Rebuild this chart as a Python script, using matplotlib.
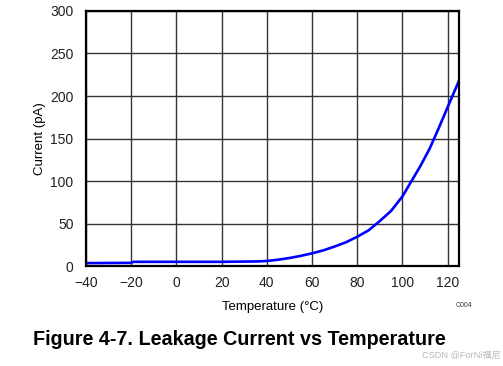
import matplotlib
matplotlib.use('Agg')
import matplotlib.pyplot as plt

# leakage current
temp_c = [-40, -20, -19, 0, 20, 36, 40, 45, 50, 55, 60, 65, 70, 75, 80, 85, 90, 95, 100,
          104, 108, 112, 116, 120, 125]
current_pa = [3.5, 3.8, 5, 5, 5, 5.5, 6, 7.5, 9.5, 12, 15, 18.5, 23, 28, 34.5, 42, 53, 65, 82,
              100, 118, 138, 162, 187, 218]

x_ticks = [-40, -20, 0, 20, 40, 60, 80, 100, 120]
y_ticks = [0, 50, 100, 150, 200, 250, 300]

plt.rcParams['font.family'] = ['Liberation Sans', 'DejaVu Sans']
plt.rcParams['axes.unicode_minus'] = True

fig = plt.figure(figsize=(5.03, 3.66), dpi=100)
ax = fig.add_axes([0.171, 0.273, 0.9125 - 0.171, 0.97 - 0.273])

ax.plot(temp_c, current_pa, color='#0000ff', linewidth=1.9, solid_capstyle='butt')

ax.set_xlim(-40, 125)
ax.set_ylim(0, 300)
ax.set_xticks(x_ticks)
ax.set_yticks(y_ticks)
ax.grid(True, color='#333333', linewidth=1.0)
ax.set_axisbelow(True)
ax.tick_params(length=0, labelsize=10, colors='#222222')
ax.tick_params(axis='y', pad=9)
ax.tick_params(axis='x', pad=7)
for s in ax.spines.values():
    s.set_linewidth(1.6)
    s.set_color('black')

ax.set_xlabel('Temperature (°C)', fontsize=9.5, labelpad=8)
ax.set_ylabel('Current (pA)', fontsize=9.5, labelpad=3)

fig.text(0.905, 0.165, 'C004', fontsize=5, color='#333333', ha='left', va='center')
fig.text(0.066, 0.073, 'Figure 4-7. Leakage Current vs Temperature', fontsize=14.2,
         fontweight='bold', ha='left', va='center')
fig.text(0.995, 0.03, 'CSDN @ForNi福尼', fontsize=6.6, color='#b8b8b8', ha='right', va='center',
         family=['Liberation Sans', 'Noto Sans CJK SC'])

fig.savefig('out.png', dpi=100)
